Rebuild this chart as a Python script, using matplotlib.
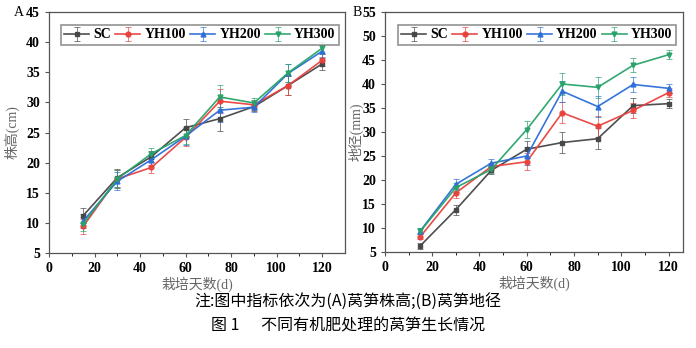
import matplotlib.pyplot as plt
import numpy as np

plt.rcParams["font.family"] = ['Liberation Serif', 'Noto Sans CJK SC']
plt.rcParams.update({'font.size': 10})

days = [15, 30, 45, 60, 75, 90, 105, 120]
series = ['SC', 'YH100', 'YH200', 'YH300']
colors = ['#454545', '#e8413c', '#2c6ed8', '#27a36a']
markers = ['s', 'o', '^', 'v']

# 株高 (cm)
height = {
    'SC':    [11.2, 17.5, 21.0, 25.8, 27.3, 29.3, 32.8, 36.4],
    'YH100': [9.4, 17.3, 19.2, 24.2, 30.2, 29.6, 32.8, 37.0],
    'YH200': [10.3, 16.9, 20.5, 24.4, 28.7, 29.2, 34.8, 38.5],
    'YH300': [9.8, 17.3, 21.5, 24.5, 30.9, 29.9, 34.9, 39.0],
}
height_err = [1.2, 1.5, 0.9, 1.4, 2.0, 0.8, 1.5, 1.0]

# 地径 (mm)
diam = {
    'SC':    [6.3, 13.8, 22.0, 26.4, 27.8, 28.6, 35.5, 35.9],
    'YH100': [8.2, 17.3, 22.8, 23.8, 34.0, 31.2, 34.5, 38.2],
    'YH200': [9.4, 19.1, 23.5, 25.0, 38.5, 35.3, 39.9, 39.1],
    'YH300': [9.3, 18.4, 22.2, 30.5, 40.0, 39.3, 43.9, 46.1],
}
diam_err = [0.6, 1.0, 0.8, 1.8, 2.2, 2.2, 1.5, 0.9]

fig = plt.figure(figsize=(6.96, 3.48), dpi=100)
axA = fig.add_axes([0.0704, 0.273, 0.4253, 0.6925])
axB = fig.add_axes([0.553, 0.276, 0.428, 0.6895])


def draw(ax, data, err, ylim, yticks, ylabel, xmax, ylab_x):
    for name, c, m in zip(series, colors, markers):
        ax.errorbar(days, data[name], yerr=err, color=c, marker=m,
                    markersize=3.5, linewidth=1.2, ecolor=c, elinewidth=0.5,
                    capsize=2, capthick=0.5, label=name, alpha=0.95)
    ax.set_xlim(0, xmax)
    ax.set_ylim(*ylim)
    ax.set_xticks(range(0, 121, 20))
    ax.set_xticks(range(10, 121, 20), minor=True)
    ax.set_yticks(yticks)
    for lab in ax.get_xticklabels() + ax.get_yticklabels():
        lab.set_fontweight('bold')
    ax.tick_params(length=3, width=0.8, color='#555555')
    ax.tick_params(which='minor', length=2)
    for s in ax.spines.values():
        s.set_color('#555555')
        s.set_linewidth(0.9)
    ax.set_xlabel('栽培天数(d)', fontsize=10, color='#666666')
    ax.set_ylabel(ylabel, fontsize=10, color='#666666')
    ax.xaxis.set_label_coords(0.5, -0.098)
    ax.yaxis.set_label_coords(ylab_x, 0.5)
    leg = ax.legend(loc='upper center', bbox_to_anchor=(0.51, 0.975), ncol=4,
                    frameon=True, fancybox=False, handlelength=1.8,
                    handletextpad=0.3, columnspacing=0.3, borderpad=0.25,
                    prop={'weight': 'bold', 'size': 10})
    leg.get_frame().set_edgecolor('#777777')
    leg.get_frame().set_linewidth(1.2)


draw(axA, height, height_err, (5, 45), range(5, 46, 5), '株高(cm)', 130, -0.098)
draw(axB, diam, diam_err, (5, 55), range(5, 56, 5), '地径(mm)', 126, -0.072)

fig.text(0.02, 0.955, 'A', fontsize=10)
fig.text(0.507, 0.955, 'B', fontsize=10)

fig.text(0.5, 0.135, '注:图中指标依次为(A)莴笋株高;(B)莴笋地径', ha='center',
         va='center', fontsize=11.5, family=['Noto Sans CJK SC', 'DejaVu Sans'])
fig.text(0.5, 0.064, '图 1      不同有机肥处理的莴笋生长情况', ha='center',
         va='center', fontsize=11.5, family=['Noto Sans CJK SC', 'DejaVu Sans'])

fig.savefig('out.png', dpi=100)
